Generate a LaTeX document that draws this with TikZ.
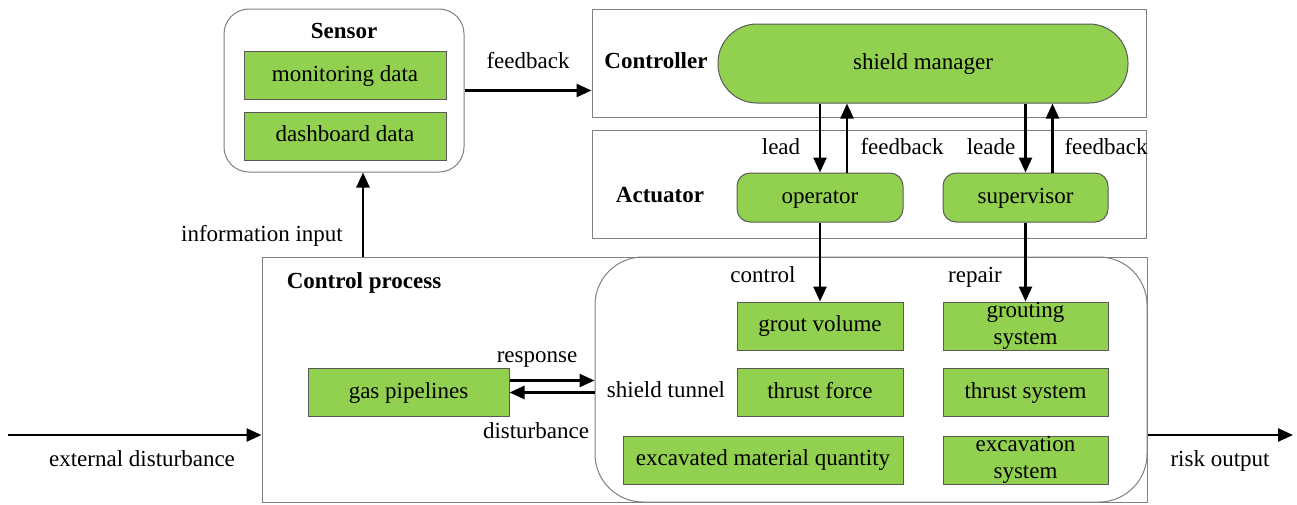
\documentclass[tikz,border=0pt]{standalone}
\usepackage{fontspec}
\setmainfont{Liberation Serif}
\usetikzlibrary{arrows.meta}
\definecolor{leaf}{HTML}{92D050}

\begin{document}
\begin{tikzpicture}
  [x=1pt,y=-1pt,font=\fontsize{23}{27}\selectfont,
   every node/.style={inner sep=0pt,text height=16pt,text depth=5pt},
   frame/.style={draw=black!50,line width=1pt},
   item/.style={draw=black!65,fill=leaf,line width=1pt,minimum height=48pt,align=center},
   twoline/.style={text height=,text depth=},
   title/.style={font=\fontsize{23}{27}\selectfont\bfseries},
   flow/.style={line width=2.5pt,-{Triangle[length=15pt,width=13pt]}}]
  \useasboundingbox (0,0) rectangle (1297,504);

  \node[frame,rounded corners=25pt,minimum width=240pt,minimum height=163pt] (sensor) at (344,90.5) {};
  \node[frame,minimum width=554pt,minimum height=108pt] (ctrl) at (869,63) {};
  \node[frame,minimum width=554pt,minimum height=108pt] (act) at (869,184) {};
  \node[frame,minimum width=885pt,minimum height=245pt] (proc) at (704.5,379.5) {};
  \node[frame,rounded corners=48pt,minimum width=552pt,minimum height=245pt] (tunnel) at (871,379.5) {};

  \node[title] (sensorlbl) at (344,33) {Sensor};
  \node[title] (ctrllbl) at (656,63) {Controller};
  \node[title] (actlbl) at (660,197) {Actuator};
  \node[title] (proclbl) at (364,283) {Control process};

  \node[item,minimum width=202pt] (mon) at (345,75.5) {monitoring data};
  \node[item,minimum width=202pt] (dash) at (345,136) {dashboard data};
  \node[item,rounded corners=39pt,minimum width=410pt,minimum height=79pt] (mgr) at (923,63.5) {shield manager};
  \node[item,rounded corners=13pt,minimum width=166pt,minimum height=49pt] (oper) at (820,197.5) {operator};
  \node[item,rounded corners=13pt,minimum width=165pt,minimum height=49pt] (sup) at (1025.5,197.5) {supervisor};
  \node[item,minimum width=201pt] (gas) at (408.5,392.5) {gas pipelines};
  \node[item,minimum width=166pt] (grout) at (820,326) {grout volume};
  \node[item,minimum width=166pt] (thrust) at (820,392.5) {thrust force};
  \node[item,minimum width=280pt] (muck) at (763,460) {excavated material quantity};
  \node[item,twoline,minimum width=165pt] (gsys) at (1025.5,326) {grouting\\system};
  \node[item,minimum width=165pt] (tsys) at (1025.5,392.5) {thrust system};
  \node[item,twoline,minimum width=165pt] (esys) at (1025.5,460) {excavation\\system};

  \coordinate (ext) at (8,435);
  \coordinate (risk) at (1293,435);

  \draw[flow] (sensor.east) -- (sensor.east -| ctrl.west);
  \draw[flow] (oper.north |- mgr.south) -- (oper.north);
  \draw[flow] ([xshift=27pt]oper.north) -- ([xshift=27pt]oper.north |- mgr.south);
  \draw[flow] (sup.north |- mgr.south) -- (sup.north);
  \draw[flow] ([xshift=27pt]sup.north) -- ([xshift=27pt]sup.north |- mgr.south);
  \foreach \from/\to in {oper/grout,sup/gsys}
    \draw[flow] (\from.south) -- (\to.north);
  \draw[flow] ([xshift=19pt]sensor.south |- proc.north) -- ([xshift=19pt]sensor.south);
  \draw[flow] ([yshift=12pt]gas.east) -- ([yshift=12pt]gas.east -| tunnel.west);
  \draw[flow] (gas.east -| tunnel.west) -- (gas.east);
  \draw[flow] (ext) -- (ext -| proc.west);
  \draw[flow] (risk -| proc.east) -- (risk);

  \node (fbsensor) at (528,63) {feedback};
  \node (leadlbl) at (781,149) {lead};
  \node (fboper) at (902,149) {feedback};
  \node (leadelbl) at (991,149) {leade};
  \node (fbsup) at (1106,149) {feedback};
  \node (infolbl) at (262,236) {information input};
  \node (controllbl) at (763,277) {control};
  \node (repairlbl) at (975,277) {repair};
  \node (resplbl) at (537,357) {response};
  \node (distlbl) at (536,433) {disturbance};
  \node (tunnellbl) at (666,392) {shield tunnel};
  \node (extlbl) at (142,461) {external disturbance};
  \node (risklbl) at (1220,461) {risk output};

\end{tikzpicture}
\end{document}
